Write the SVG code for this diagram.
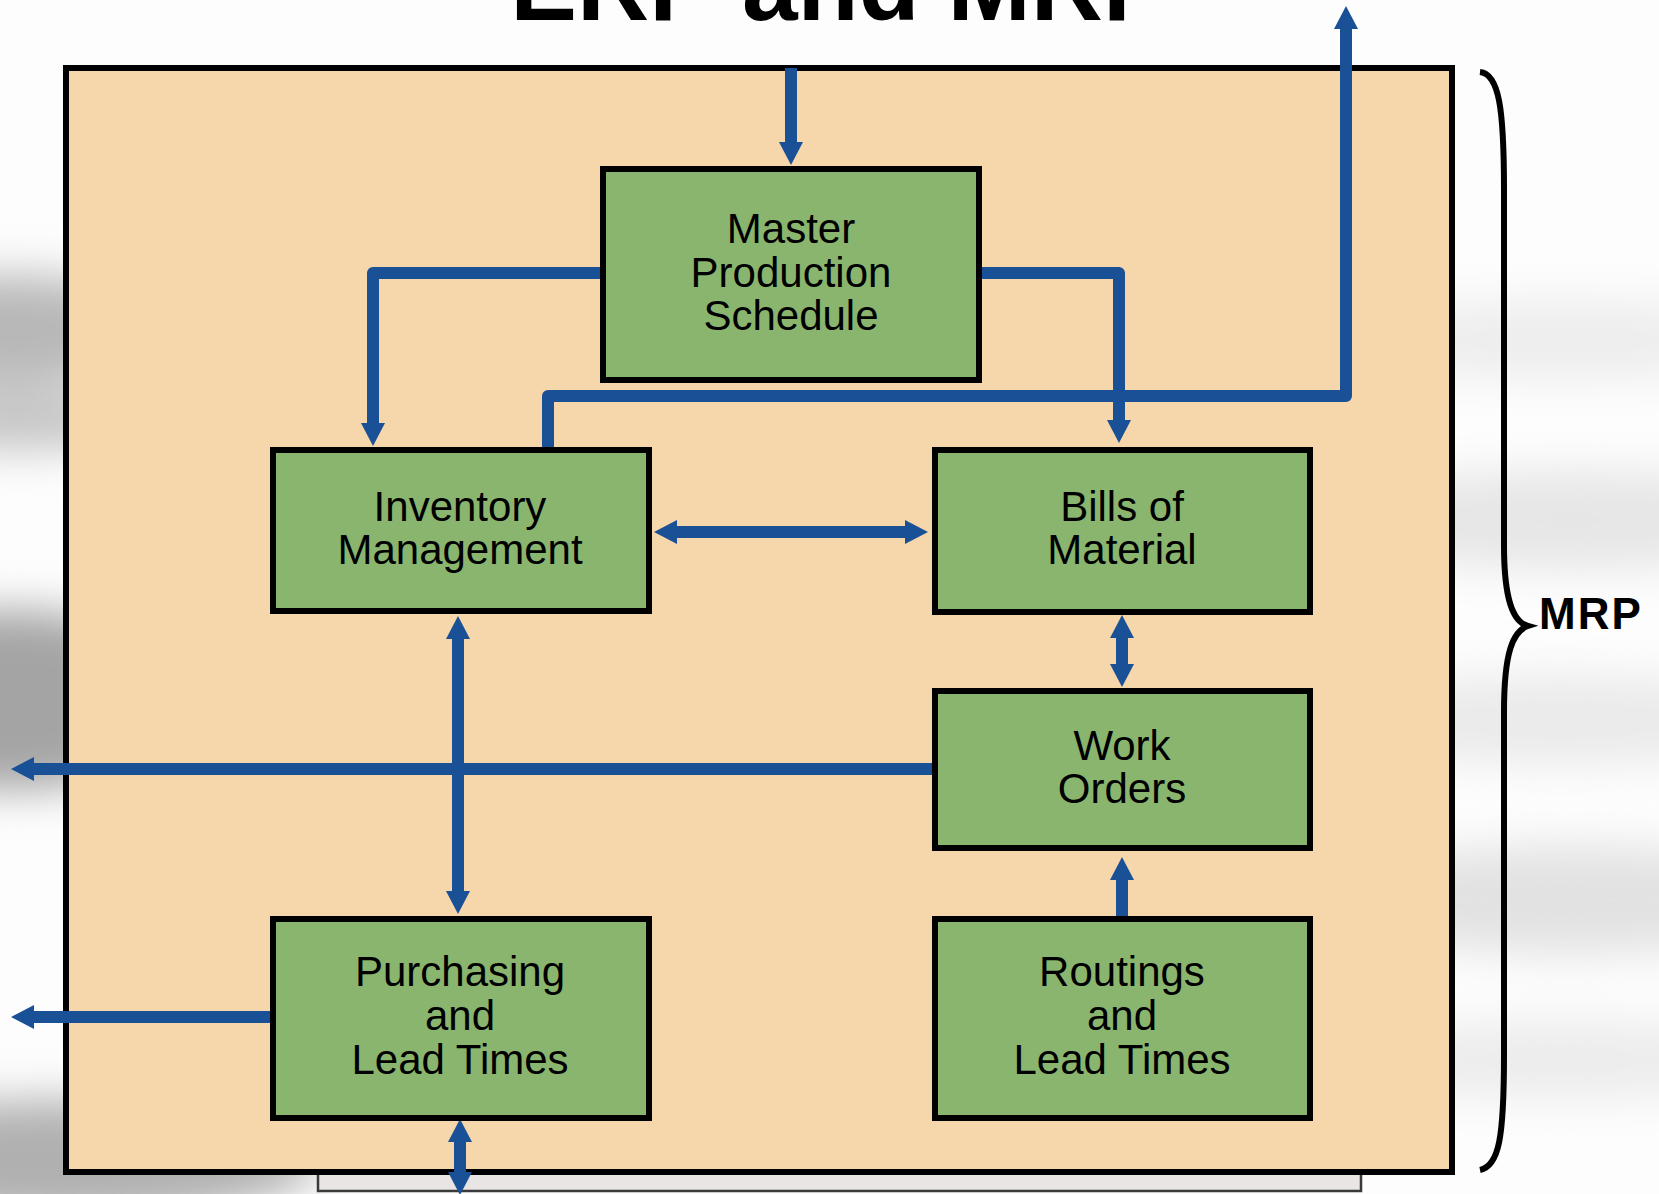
<svg xmlns="http://www.w3.org/2000/svg" width="1659" height="1194" viewBox="0 0 1659 1194">
  <defs>
    <style>
      .box { fill: #8AB56E; stroke: #000; stroke-width: 6; }
      .lbl { font-family: "Liberation Sans", Arial, sans-serif; font-size: 42px; fill: #000; text-anchor: middle; }
      .flow { fill: none; stroke: #1A5096; stroke-width: 12; stroke-linejoin: round; }
      .title { font-family: "Liberation Sans", Arial, sans-serif; font-weight: bold; fill: #000; }
    </style>
    <marker id="head" viewBox="0 0 23 24" refX="1" refY="12" markerWidth="23" markerHeight="24" markerUnits="userSpaceOnUse" orient="auto-start-reverse">
      <path d="M0,0 L23,12 L0,24 z" fill="#1A5096"/>
    </marker>
    <filter id="soft" x="-50%" y="-50%" width="200%" height="200%">
      <feGaussianBlur stdDeviation="22"/>
    </filter>
  </defs>

  <!-- page background -->
  <rect x="0" y="0" width="1659" height="1194" fill="#fdfdfd"/>
  <g id="backdrop" filter="url(#soft)">
    <ellipse cx="10" cy="330" rx="150" ry="55" fill="#b8b8b8"/>
    <ellipse cx="20" cy="420" rx="120" ry="30" fill="#c4c4c4"/>
    <ellipse cx="10" cy="700" rx="170" ry="90" fill="#a4a4a4"/>
    <ellipse cx="60" cy="1160" rx="260" ry="60" fill="#b0b0b0"/>
    <ellipse cx="1560" cy="340" rx="240" ry="40" fill="#ededed"/>
    <ellipse cx="1570" cy="520" rx="240" ry="50" fill="#e6e6e6"/>
    <ellipse cx="1560" cy="720" rx="240" ry="45" fill="#eaeaea"/>
    <ellipse cx="1570" cy="900" rx="240" ry="55" fill="#e2e2e2"/>
    <ellipse cx="1560" cy="1060" rx="220" ry="40" fill="#ececec"/>
  </g>

  <!-- heading, cut by the top edge -->
  <text class="title" x="840" y="20" font-size="100" text-anchor="middle">ERP and MRP</text>

  <!-- panel behind the main frame -->
  <rect x="318" y="1140" width="1043" height="51" fill="#e8e5e4" stroke="#3a3a3a" stroke-width="2.5"/>

  <!-- MRP frame -->
  <rect id="frame" x="66" y="68" width="1386" height="1104" fill="#F6D7AC" stroke="#000" stroke-width="6"/>

  <!-- brace and its label -->
  <g id="mrp-brace">
    <path d="M1480,72 C1499,74 1504,108 1504,190 L1504,545 C1504,600 1513,622 1528,626 C1513,631 1504,652 1504,712 L1504,1055 C1504,1138 1499,1166 1480,1170" fill="none" stroke="#000" stroke-width="6"/>
    <text class="title" x="1539" y="629" font-size="44" letter-spacing="2">MRP</text>
  </g>

  <!-- connectors -->
  <g id="connectors">
    <path class="flow" d="M791,68 V143" marker-end="url(#head)"/>
    <path class="flow" d="M600,273 H373 V424" marker-end="url(#head)"/>
    <path class="flow" d="M982,273 H1119 V421" marker-end="url(#head)"/>
    <path class="flow" d="M548,447 V396 H1346 V28" marker-end="url(#head)"/>
    <path class="flow" d="M676,532 H906" marker-start="url(#head)" marker-end="url(#head)"/>
    <path class="flow" d="M1122,637 V665" marker-start="url(#head)" marker-end="url(#head)"/>
    <path class="flow" d="M458,638 V892" marker-start="url(#head)" marker-end="url(#head)"/>
    <path class="flow" d="M932,769 H33" marker-end="url(#head)"/>
    <path class="flow" d="M1122,916 V879" marker-end="url(#head)"/>
    <path class="flow" d="M270,1017 H33" marker-end="url(#head)"/>
    <path class="flow" d="M460,1141 V1173" marker-start="url(#head)" marker-end="url(#head)"/>
  </g>

  <!-- nodes -->
  <g id="master-production-schedule">
    <rect class="box" x="603" y="169" width="376" height="211"/>
    <text class="lbl" x="791"><tspan x="791" y="243">Master</tspan><tspan x="791" y="287">Production</tspan><tspan x="791" y="330">Schedule</tspan></text>
  </g>
  <g id="inventory-management">
    <rect class="box" x="273" y="450" width="376" height="161"/>
    <text class="lbl" x="460"><tspan x="460" y="521">Inventory</tspan><tspan x="460" y="564">Management</tspan></text>
  </g>
  <g id="bills-of-material">
    <rect class="box" x="935" y="450" width="375" height="162"/>
    <text class="lbl" x="1122"><tspan x="1122" y="521">Bills of</tspan><tspan x="1122" y="564">Material</tspan></text>
  </g>
  <g id="work-orders">
    <rect class="box" x="935" y="691" width="375" height="157"/>
    <text class="lbl" x="1122"><tspan x="1122" y="760">Work</tspan><tspan x="1122" y="803">Orders</tspan></text>
  </g>
  <g id="purchasing">
    <rect class="box" x="273" y="919" width="376" height="199"/>
    <text class="lbl" x="460"><tspan x="460" y="986">Purchasing</tspan><tspan x="460" y="1030">and</tspan><tspan x="460" y="1074">Lead Times</tspan></text>
  </g>
  <g id="routings">
    <rect class="box" x="935" y="919" width="375" height="199"/>
    <text class="lbl" x="1122"><tspan x="1122" y="986">Routings</tspan><tspan x="1122" y="1030">and</tspan><tspan x="1122" y="1074">Lead Times</tspan></text>
  </g>
</svg>
